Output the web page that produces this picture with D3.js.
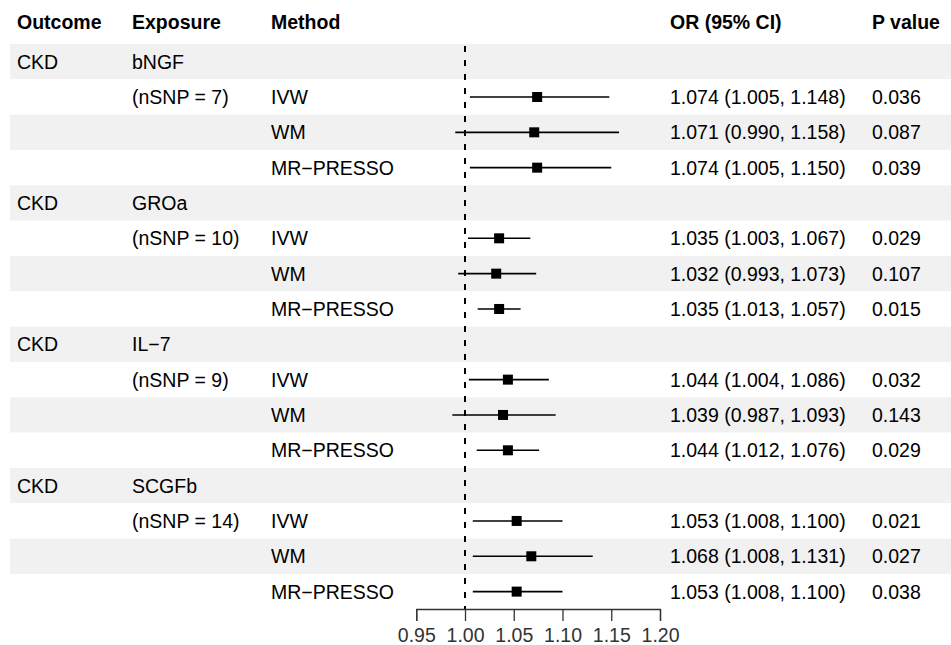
<!DOCTYPE html>
<html><head><meta charset="utf-8">
<script src="https://cdn.jsdelivr.net/npm/d3@7"></script>
<style>body{margin:0;background:#fff}svg{display:block}text{font-family:"Liberation Sans",Arial,sans-serif}</style>
</head><body><svg id="c" width="951" height="645"></svg>
<script>
const exposures = ["bNGF","GROa","IL\u22127","SCGFb"];
const nSNP = [7,10,9,14];
const outcome = "CKD";
const methods = ["IVW","WM","MR\u2212PRESSO"];
const orVals = [[1.074,1.071,1.074],[1.035,1.032,1.035],[1.044,1.039,1.044],[1.053,1.068,1.053]];
const loVals = [[1.005,0.990,1.005],[1.003,0.993,1.013],[1.004,0.987,1.012],[1.008,1.008,1.008]];
const hiVals = [[1.148,1.158,1.150],[1.067,1.073,1.057],[1.086,1.093,1.076],[1.100,1.131,1.100]];
const pVals = [["0.036","0.087","0.039"],["0.029","0.107","0.015"],["0.032","0.143","0.029"],["0.021","0.027","0.038"]];
const xTicks = [0.95,1.00,1.05,1.10,1.15,1.20];
const headers = ["Outcome","Exposure","Method","OR (95% CI)","P value"];

const svg = d3.select("#c");
const FS = 19.5;
const colX = [17,132,271,670,872];
const x = d3.scaleLinear().domain([0.95,1.20]).range([416.25,660]);
const nRows = exposures.length*4;
const y = d3.scaleLinear().domain([0,nRows]).range([44,44+nRows*35.33]);

// build rows
const rows = [];
exposures.forEach((e,g)=>{
  rows.push({type:"head", cols:[outcome,e,"","",""]});
  methods.forEach((m,j)=>{
    const ci = orVals[g][j].toFixed(3)+" ("+loVals[g][j].toFixed(3)+", "+hiVals[g][j].toFixed(3)+")";
    rows.push({type:"est", or:orVals[g][j], lo:loVals[g][j], hi:hiVals[g][j],
      cols:["", j===0?"(nSNP = "+nSNP[g]+")":"", m, ci, pVals[g][j]]});
  });
});

// shading
svg.selectAll("rect.bg").data(rows).join("rect")
  .attr("x",10).attr("width",941)
  .attr("y",(d,i)=>y(i)).attr("height",y(1)-y(0))
  .attr("fill",(d,i)=>i%2===0?"#f1f1f1":"#ffffff");

// headers
svg.selectAll("text.h").data(headers).join("text")
  .attr("x",(d,i)=>colX[i]).attr("y",29).attr("font-size",FS).attr("font-weight","bold").attr("fill","#000")
  .text(d=>d);

// row text
rows.forEach((r,i)=>{
  const cy = (y(i)+y(i+1))/2;
  r.cols.forEach((t,k)=>{ if(t) svg.append("text").attr("x",colX[k]).attr("y",cy+7).attr("font-size",FS).attr("fill","#000").text(t); });
});

// reference line
svg.append("line").attr("x1",x(1)).attr("x2",x(1)).attr("y1",46).attr("y2",y(nRows)).attr("stroke","#000").attr("stroke-width",2).attr("stroke-dasharray","6,8");

// CI + points
const est = rows.map((r,i)=>({...r,i})).filter(r=>r.type==="est");
svg.selectAll("line.ci").data(est).join("line")
  .attr("x1",d=>x(d.lo)).attr("x2",d=>x(d.hi))
  .attr("y1",d=>(y(d.i)+y(d.i+1))/2).attr("y2",d=>(y(d.i)+y(d.i+1))/2)
  .attr("stroke","#000").attr("stroke-width",1.6);
svg.selectAll("rect.pt").data(est).join("rect")
  .attr("x",d=>x(d.or)-5).attr("y",d=>(y(d.i)+y(d.i+1))/2-5).attr("width",10).attr("height",10).attr("fill","#000");

// axis
const ax = svg.append("g").attr("transform","translate(0,609)")
  .call(d3.axisBottom(x).tickValues(xTicks).tickFormat(d3.format(".2f")).tickSize(12).tickPadding(7));
ax.select(".domain").attr("stroke","#333").attr("stroke-width",1.3);
ax.selectAll(".tick line").attr("stroke","#333").attr("stroke-width",1.3);
ax.selectAll("text").attr("font-size",FS).attr("fill","#333").attr("font-family","Liberation Sans, Arial, sans-serif");
</script></body></html>
